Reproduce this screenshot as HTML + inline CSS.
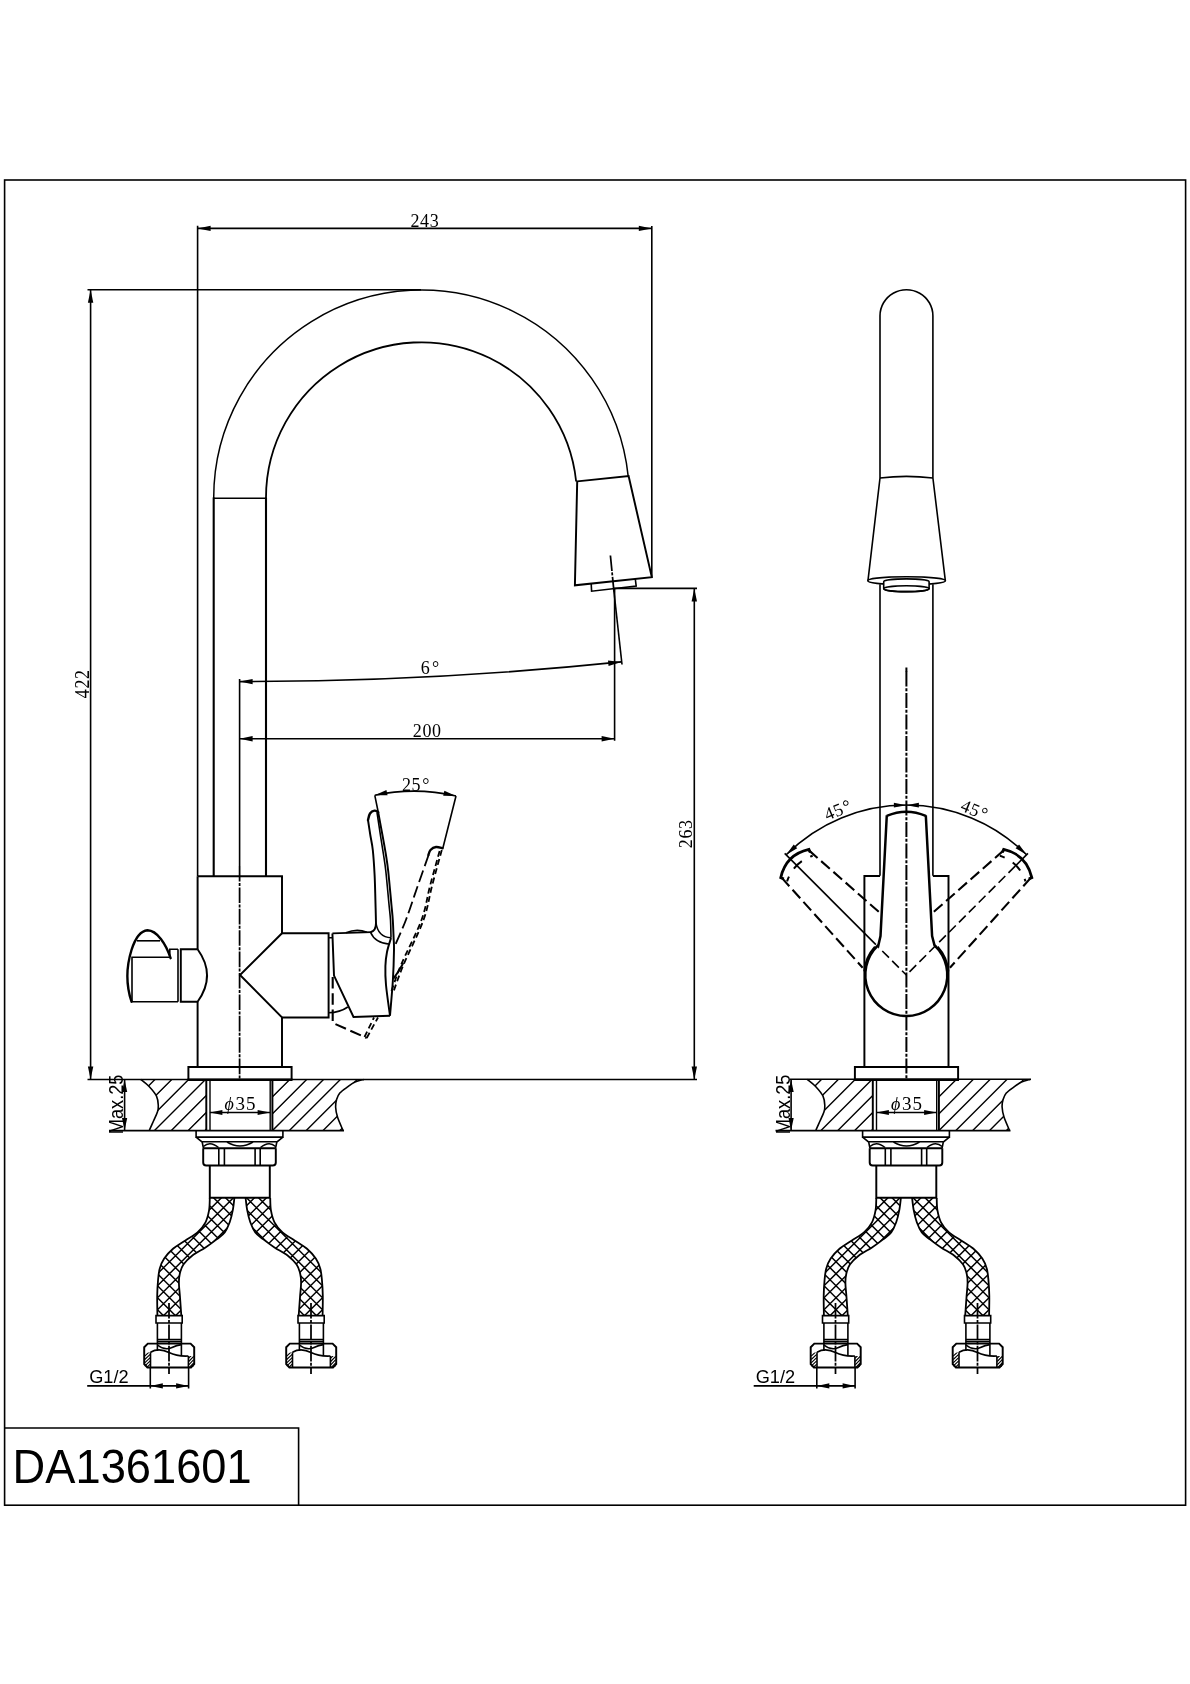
<!DOCTYPE html>
<html><head><meta charset="utf-8"><title>DA1361601</title>
<style>
html,body{margin:0;padding:0;background:#fff;}
body{width:1190px;height:1684px;overflow:hidden;}
svg{display:block;will-change:transform;}
.k{fill:none;stroke:#000;stroke-width:1.95;stroke-linecap:butt;stroke-linejoin:miter;}
.k3{fill:none;stroke:#000;stroke-width:2.5;stroke-linecap:butt;stroke-linejoin:miter;}
.dh{fill:none;stroke:#000;stroke-width:2;stroke-dasharray:5 9.5 11 9.5 5 30;}
.k2{fill:none;stroke:#000;stroke-width:2.4;stroke-linecap:round;stroke-linejoin:round;}
.t{fill:none;stroke:#000;stroke-width:1.6;}
.m{fill:none;stroke:#000;stroke-width:1.6;}
.h{fill:none;stroke:#000;stroke-width:1.4;}
.c{fill:none;stroke:#000;stroke-width:1.75;stroke-dasharray:15.6 1.4 3 1.4;}
.c2{fill:none;stroke:#000;stroke-width:2;stroke-dasharray:15 1.8 2.9 1.8;}
.d{fill:none;stroke:#000;stroke-width:2.1;stroke-dasharray:11.5 4.8;}
.d1{fill:none;stroke:#000;stroke-width:1.6;stroke-dasharray:9.5 4.5;}
.d2{fill:none;stroke:#000;stroke-width:1.8;stroke-dasharray:12 4.5;}
.ds{fill:none;stroke:#000;stroke-width:1.8;stroke-dasharray:6 3.5;}
.ah{fill:#000;stroke:none;}
.w{fill:#fff;stroke:#000;stroke-width:2;}
text{fill:#000;}
.ser{font-family:"Liberation Serif",serif;font-size:18px;letter-spacing:0.6px;}
.san{font-family:"Liberation Sans",sans-serif;font-size:18.2px;}
.ttl{font-family:"Liberation Sans",sans-serif;font-size:45px;}
</style></head><body>
<svg width="1190" height="1684" viewBox="0 0 1190 1684">
<rect x="0" y="0" width="1190" height="1684" fill="#fff"/>
<defs>
<clipPath id="hcL"><path d="M209.8,1198 C209.68,1200.03 209.82,1206.15 209.1,1210.2 C208.38,1214.25 207.43,1218.6 205.5,1222.3 C203.57,1226 200.85,1229.38 197.5,1232.4 C194.15,1235.42 189.43,1237.72 185.4,1240.4 C181.37,1243.08 176.83,1245.47 173.3,1248.5 C169.77,1251.53 166.47,1255.23 164.2,1258.6 C161.93,1261.97 160.73,1265 159.7,1268.7 C158.67,1272.4 158.42,1276.27 158,1280.8 C157.58,1285.33 157.3,1290.12 157.2,1295.9 C157.1,1301.68 157.37,1312.23 157.4,1315.5 L181.3,1315.5 C181.07,1312.23 180.3,1301.35 179.9,1295.9 C179.5,1290.45 178.92,1286.5 178.9,1282.8 C178.88,1279.1 179.05,1276.73 179.8,1273.7 C180.55,1270.67 181.3,1267.63 183.4,1264.6 C185.5,1261.57 188.72,1258.35 192.4,1255.5 C196.08,1252.65 201.47,1250.18 205.5,1247.5 C209.53,1244.82 213.4,1241.92 216.6,1239.4 C219.8,1236.88 222.52,1235.25 224.7,1232.4 C226.88,1229.55 228.35,1226 229.7,1222.3 C231.05,1218.6 232.02,1214.25 232.8,1210.2 C233.58,1206.15 234.13,1200.03 234.4,1198 Z"/></clipPath>
<clipPath id="hcR"><path d="M270.2,1198 C270.32,1200.03 270.18,1206.15 270.9,1210.2 C271.62,1214.25 272.57,1218.6 274.5,1222.3 C276.43,1226 279.15,1229.38 282.5,1232.4 C285.85,1235.42 290.57,1237.72 294.6,1240.4 C298.63,1243.08 303.17,1245.47 306.7,1248.5 C310.23,1251.53 313.53,1255.23 315.8,1258.6 C318.07,1261.97 319.27,1265 320.3,1268.7 C321.33,1272.4 321.58,1276.27 322,1280.8 C322.42,1285.33 322.7,1290.12 322.8,1295.9 C322.9,1301.68 322.63,1312.23 322.6,1315.5 L298.7,1315.5 C298.93,1312.23 299.7,1301.35 300.1,1295.9 C300.5,1290.45 301.08,1286.5 301.1,1282.8 C301.12,1279.1 300.95,1276.73 300.2,1273.7 C299.45,1270.67 298.7,1267.63 296.6,1264.6 C294.5,1261.57 291.28,1258.35 287.6,1255.5 C283.92,1252.65 278.53,1250.18 274.5,1247.5 C270.47,1244.82 266.6,1241.92 263.4,1239.4 C260.2,1236.88 257.48,1235.25 255.3,1232.4 C253.12,1229.55 251.65,1226 250.3,1222.3 C248.95,1218.6 247.98,1214.25 247.2,1210.2 C246.42,1206.15 245.87,1200.03 245.6,1198 Z"/></clipPath>
<clipPath id="cpL"><path d="M140.7,1079.4 C142.1,1080.58 146.47,1083.7 149.1,1086.5 C151.73,1089.3 154.97,1093.02 156.5,1096.2 C158.03,1099.38 158.13,1103.02 158.3,1105.6 C158.47,1108.18 158.3,1109.13 157.5,1111.7 C156.7,1114.27 154.85,1117.92 153.5,1121 C152.15,1124.08 150.08,1128.67 149.4,1130.2 L206.3,1130.4 L206.3,1079.4 Z"/></clipPath>
<clipPath id="cpR"><path d="M363.8,1079.4 C362.33,1079.83 357.77,1080.72 355,1082 C352.23,1083.28 349.73,1085.25 347.2,1087.1 C344.67,1088.95 341.57,1091.02 339.8,1093.1 C338.03,1095.18 337.3,1097.28 336.6,1099.6 C335.9,1101.92 335.45,1104.08 335.6,1107 C335.75,1109.92 336.27,1113.2 337.5,1117.1 C338.73,1121 342.08,1128.18 343,1130.4 L272.3,1130.4 L272.3,1079.4 Z"/></clipPath>
<g id="bot">
<path class="k" d="M188.4,1079.5 V1066.9 H291.6 V1079.5"/>
<path class="k" d="M187.5,1079.7 H292.5" style="stroke-width:2.5"/>
<path class="m" d="M109,1130.6 H344"/>
<path class="m" d="M140.7,1079.4 C142.1,1080.58 146.47,1083.7 149.1,1086.5 C151.73,1089.3 154.97,1093.02 156.5,1096.2 C158.03,1099.38 158.13,1103.02 158.3,1105.6 C158.47,1108.18 158.3,1109.13 157.5,1111.7 C156.7,1114.27 154.85,1117.92 153.5,1121 C152.15,1124.08 150.08,1128.67 149.4,1130.2"/>
<path class="m" d="M363.8,1079.4 C362.33,1079.83 357.77,1080.72 355,1082 C352.23,1083.28 349.73,1085.25 347.2,1087.1 C344.67,1088.95 341.57,1091.02 339.8,1093.1 C338.03,1095.18 337.3,1097.28 336.6,1099.6 C335.9,1101.92 335.45,1104.08 335.6,1107 C335.75,1109.92 336.27,1113.2 337.5,1117.1 C338.73,1121 342.08,1128.18 343,1130.4"/>
<path class="h" clip-path="url(#cpL)" d="M52.34,1131.5 L105.34,1078.5 M69.2,1131.5 L122.2,1078.5 M86.06,1131.5 L139.06,1078.5 M102.92,1131.5 L155.92,1078.5 M119.78,1131.5 L172.78,1078.5 M136.64,1131.5 L189.64,1078.5 M153.5,1131.5 L206.5,1078.5 M170.36,1131.5 L223.36,1078.5 M187.22,1131.5 L240.22,1078.5 M204.08,1131.5 L257.08,1078.5 M220.94,1131.5 L273.94,1078.5 M237.8,1131.5 L290.8,1078.5 M254.66,1131.5 L307.66,1078.5 M271.52,1131.5 L324.52,1078.5 M288.38,1131.5 L341.38,1078.5 M305.24,1131.5 L358.24,1078.5 M322.1,1131.5 L375.1,1078.5 M338.96,1131.5 L391.96,1078.5 "/>
<path class="h" clip-path="url(#cpR)" d="M52.34,1131.5 L105.34,1078.5 M69.2,1131.5 L122.2,1078.5 M86.06,1131.5 L139.06,1078.5 M102.92,1131.5 L155.92,1078.5 M119.78,1131.5 L172.78,1078.5 M136.64,1131.5 L189.64,1078.5 M153.5,1131.5 L206.5,1078.5 M170.36,1131.5 L223.36,1078.5 M187.22,1131.5 L240.22,1078.5 M204.08,1131.5 L257.08,1078.5 M220.94,1131.5 L273.94,1078.5 M237.8,1131.5 L290.8,1078.5 M254.66,1131.5 L307.66,1078.5 M271.52,1131.5 L324.52,1078.5 M288.38,1131.5 L341.38,1078.5 M305.24,1131.5 L358.24,1078.5 M322.1,1131.5 L375.1,1078.5 M338.96,1131.5 L391.96,1078.5 "/>
<path class="k" d="M206.3,1079.5 V1130.4 M272.4,1079.5 V1130.4"/>
<path class="h" d="M210,1079.5 V1130.4 M270.2,1079.5 V1130.4"/>
<path class="t" d="M209.9,1112.5 H270.1"/>
<path class="ah" d="M209.9,1112.5 L222.4,1109.9 L222.4,1115.1 Z"/>
<path class="ah" d="M270.1,1112.5 L257.6,1115.1 L257.6,1109.9 Z"/>
<text class="ser" x="224.4" y="1110.4" style="font-size:19px;letter-spacing:0.9px"><tspan font-style="italic" style="font-size:18px">&#981;</tspan><tspan dx="1">35</tspan></text>
<path class="t" d="M124.6,1079.5 V1130.6"/>
<path class="ah" d="M124.6,1079.5 L127.2,1092 L122,1092 Z"/>
<path class="ah" d="M124.6,1130.6 L122,1118.1 L127.2,1118.1 Z"/>
<text class="san" transform="translate(123.2,1134.2) rotate(-90) scale(1,1.14)" x="0" y="0">Max.25</text>
<path class="m" d="M196.1,1130.6 V1137.1 H282.9 V1130.6"/>
<path class="m" d="M196.1,1137.1 L201.7,1141.7 H277.3 L282.9,1137.1"/>
<path class="m" d="M203.4,1148.2 L202.2,1142 M275.6,1148.2 L276.8,1142"/>
<path class="t" d="M203.4,1146.5 Q210,1140.5 218.5,1147.5 M275.6,1146.5 Q269,1140.5 260.5,1147.5 M227,1142 Q240,1150 253,1142"/>
<path class="k" d="M203.2,1148.2 H275.8 M203.2,1148.2 V1162.4 Q203.2,1165.4 206.2,1165.4 H272.8 Q275.8,1165.4 275.8,1162.4 V1148.2"/>
<path class="m" d="M218.8,1148.2 V1165.4 M224.4,1148.2 V1165.4 M255.1,1148.2 V1165.4 M260.2,1148.2 V1165.4"/>
<path class="k" d="M209.8,1165.4 V1197.7 H269.8 V1165.4"/>
<path d="M31.8,1196 L152.8,1317 M43.8,1196 L164.8,1317 M55.8,1196 L176.8,1317 M67.8,1196 L188.8,1317 M79.8,1196 L200.8,1317 M91.8,1196 L212.8,1317 M103.8,1196 L224.8,1317 M115.8,1196 L236.8,1317 M127.8,1196 L248.8,1317 M139.8,1196 L260.8,1317 M151.8,1196 L272.8,1317 M163.8,1196 L284.8,1317 M175.8,1196 L296.8,1317 M187.8,1196 L308.8,1317 M199.8,1196 L320.8,1317 M211.8,1196 L332.8,1317 M223.8,1196 L344.8,1317 M235.8,1196 L356.8,1317 M247.8,1196 L368.8,1317 M151.2,1196 L30.2,1317 M163.2,1196 L42.2,1317 M175.2,1196 L54.2,1317 M187.2,1196 L66.2,1317 M199.2,1196 L78.2,1317 M211.2,1196 L90.2,1317 M223.2,1196 L102.2,1317 M235.2,1196 L114.2,1317 M247.2,1196 L126.2,1317 M259.2,1196 L138.2,1317 M271.2,1196 L150.2,1317 M283.2,1196 L162.2,1317 M295.2,1196 L174.2,1317 M307.2,1196 L186.2,1317 M319.2,1196 L198.2,1317 M331.2,1196 L210.2,1317 M343.2,1196 L222.2,1317 M355.2,1196 L234.2,1317 M367.2,1196 L246.2,1317 " clip-path="url(#hcL)" fill="none" stroke="#000" stroke-width="1.5"/>
<path d="M112.8,1196 L233.8,1317 M124.8,1196 L245.8,1317 M136.8,1196 L257.8,1317 M148.8,1196 L269.8,1317 M160.8,1196 L281.8,1317 M172.8,1196 L293.8,1317 M184.8,1196 L305.8,1317 M196.8,1196 L317.8,1317 M208.8,1196 L329.8,1317 M220.8,1196 L341.8,1317 M232.8,1196 L353.8,1317 M244.8,1196 L365.8,1317 M256.8,1196 L377.8,1317 M268.8,1196 L389.8,1317 M280.8,1196 L401.8,1317 M292.8,1196 L413.8,1317 M304.8,1196 L425.8,1317 M316.8,1196 L437.8,1317 M328.8,1196 L449.8,1317 M232.2,1196 L111.2,1317 M244.2,1196 L123.2,1317 M256.2,1196 L135.2,1317 M268.2,1196 L147.2,1317 M280.2,1196 L159.2,1317 M292.2,1196 L171.2,1317 M304.2,1196 L183.2,1317 M316.2,1196 L195.2,1317 M328.2,1196 L207.2,1317 M340.2,1196 L219.2,1317 M352.2,1196 L231.2,1317 M364.2,1196 L243.2,1317 M376.2,1196 L255.2,1317 M388.2,1196 L267.2,1317 M400.2,1196 L279.2,1317 M412.2,1196 L291.2,1317 M424.2,1196 L303.2,1317 M436.2,1196 L315.2,1317 M448.2,1196 L327.2,1317 " clip-path="url(#hcR)" fill="none" stroke="#000" stroke-width="1.5"/>
<path d="M209.8,1198 C209.68,1200.03 209.82,1206.15 209.1,1210.2 C208.38,1214.25 207.43,1218.6 205.5,1222.3 C203.57,1226 200.85,1229.38 197.5,1232.4 C194.15,1235.42 189.43,1237.72 185.4,1240.4 C181.37,1243.08 176.83,1245.47 173.3,1248.5 C169.77,1251.53 166.47,1255.23 164.2,1258.6 C161.93,1261.97 160.73,1265 159.7,1268.7 C158.67,1272.4 158.42,1276.27 158,1280.8 C157.58,1285.33 157.3,1290.12 157.2,1295.9 C157.1,1301.68 157.37,1312.23 157.4,1315.5 M234.4,1198 C234.13,1200.03 233.58,1206.15 232.8,1210.2 C232.02,1214.25 231.05,1218.6 229.7,1222.3 C228.35,1226 226.88,1229.55 224.7,1232.4 C222.52,1235.25 219.8,1236.88 216.6,1239.4 C213.4,1241.92 209.53,1244.82 205.5,1247.5 C201.47,1250.18 196.08,1252.65 192.4,1255.5 C188.72,1258.35 185.5,1261.57 183.4,1264.6 C181.3,1267.63 180.55,1270.67 179.8,1273.7 C179.05,1276.73 178.88,1279.1 178.9,1282.8 C178.92,1286.5 179.5,1290.45 179.9,1295.9 C180.3,1301.35 181.07,1312.23 181.3,1315.5" fill="none" stroke="#000" stroke-width="1.8"/>
<path d="M270.2,1198 C270.32,1200.03 270.18,1206.15 270.9,1210.2 C271.62,1214.25 272.57,1218.6 274.5,1222.3 C276.43,1226 279.15,1229.38 282.5,1232.4 C285.85,1235.42 290.57,1237.72 294.6,1240.4 C298.63,1243.08 303.17,1245.47 306.7,1248.5 C310.23,1251.53 313.53,1255.23 315.8,1258.6 C318.07,1261.97 319.27,1265 320.3,1268.7 C321.33,1272.4 321.58,1276.27 322,1280.8 C322.42,1285.33 322.7,1290.12 322.8,1295.9 C322.9,1301.68 322.63,1312.23 322.6,1315.5 M245.6,1198 C245.87,1200.03 246.42,1206.15 247.2,1210.2 C247.98,1214.25 248.95,1218.6 250.3,1222.3 C251.65,1226 253.12,1229.55 255.3,1232.4 C257.48,1235.25 260.2,1236.88 263.4,1239.4 C266.6,1241.92 270.47,1244.82 274.5,1247.5 C278.53,1250.18 283.92,1252.65 287.6,1255.5 C291.28,1258.35 294.5,1261.57 296.6,1264.6 C298.7,1267.63 299.45,1270.67 300.2,1273.7 C300.95,1276.73 301.12,1279.1 301.1,1282.8 C301.08,1286.5 300.5,1290.45 300.1,1295.9 C299.7,1301.35 298.93,1312.23 298.7,1315.5" fill="none" stroke="#000" stroke-width="1.8"/>
<path class="m" d="M156,1315.6 H182.2 V1323 H156 Z"/>
<path class="m" d="M157.4,1323 V1343.5 M181.4,1323 V1343.5 M157.4,1339.6 H181.4 M157.4,1341.8 H181.4"/>
<path class="k" d="M147.8,1343.6 H190.6 L194.2,1347.2 V1364 L191,1367.4 H147.4 L144.2,1364 V1347.2 Z"/>
<path class="m" d="M150.5,1352.2 V1367.4 M188.4,1356 V1367.4"/>
<path class="m" d="M157.4,1343.6 V1351 M181.4,1343.6 V1355.6"/>
<path class="m" d="M150.5,1352.2 C156.2,1349 163,1349.5 169,1352.5 C174,1355 179,1356.5 188.4,1356"/>
<path class="t" d="M157.4,1345 C163,1349.5 168,1349.5 172,1347.5 C175,1346 178,1345 181.4,1344.6"/>
<clipPath id="cn169"><path d="M144.2,1352.4 H150.5 V1364.5 L150.5,1367 H144.2 Z M188.4,1356 H194.2 V1364 L193.2,1367 H188.4 Z"/></clipPath>
<path class="h" style="stroke-width:1.15" clip-path="url(#cn169)" d="M144.7,1356.2 L150.2,1351 M188.7,1358.2 L193.7,1353 M144.7,1359.5 L150.2,1354.3 M188.7,1361.5 L193.7,1356.3 M144.7,1362.8 L150.2,1357.6 M188.7,1364.8 L193.7,1359.6 M144.7,1366.1 L150.2,1360.9 M188.7,1368.1 L193.7,1362.9 M144.7,1369.4 L150.2,1364.2 M188.7,1371.4 L193.7,1366.2 "/>
<path class="c" d="M169,1303 V1374"/>
<path class="m" d="M298,1315.6 H324.2 V1323 H298 Z"/>
<path class="m" d="M299.4,1323 V1343.5 M323.4,1323 V1343.5 M299.4,1339.6 H323.4 M299.4,1341.8 H323.4"/>
<path class="k" d="M289.8,1343.6 H332.6 L336.2,1347.2 V1364 L333,1367.4 H289.4 L286.2,1364 V1347.2 Z"/>
<path class="m" d="M292.5,1352.2 V1367.4 M330.4,1356 V1367.4"/>
<path class="m" d="M299.4,1343.6 V1351 M323.4,1343.6 V1355.6"/>
<path class="m" d="M292.5,1352.2 C298.2,1349 305,1349.5 311,1352.5 C316,1355 321,1356.5 330.4,1356"/>
<path class="t" d="M299.4,1345 C305,1349.5 310,1349.5 314,1347.5 C317,1346 320,1345 323.4,1344.6"/>
<clipPath id="cn311"><path d="M286.2,1352.4 H292.5 V1364.5 L292.5,1367 H286.2 Z M330.4,1356 H336.2 V1364 L335.2,1367 H330.4 Z"/></clipPath>
<path class="h" style="stroke-width:1.15" clip-path="url(#cn311)" d="M286.7,1356.2 L292.2,1351 M330.7,1358.2 L335.7,1353 M286.7,1359.5 L292.2,1354.3 M330.7,1361.5 L335.7,1356.3 M286.7,1362.8 L292.2,1357.6 M330.7,1364.8 L335.7,1359.6 M286.7,1366.1 L292.2,1360.9 M330.7,1368.1 L335.7,1362.9 M286.7,1369.4 L292.2,1364.2 M330.7,1371.4 L335.7,1366.2 "/>
<path class="c" d="M311,1303 V1374"/>
<path class="t" d="M150.3,1367.6 V1388.6 M188.6,1367.6 V1388.6 M87.2,1385.9 H188.6"/>
<path class="ah" d="M150.3,1385.9 L162.8,1383.3 L162.8,1388.5 Z"/>
<path class="ah" d="M188.6,1385.9 L176.1,1388.5 L176.1,1383.3 Z"/>
<text class="san" x="89.2" y="1383.4">G1/2</text>
</g>
</defs>
<rect x="4.6" y="180" width="1181" height="1325.2" class="t"/>
<path class="t" d="M4.6,1428 H298.6 V1505.2"/>
<text class="ttl" transform="translate(12.6,1482.8) scale(1.006,1.055)">DA1361601</text>
<use href="#bot"/>
<path class="t" d="M197.6,225.8 V876 M651.8,226 V577"/>
<path class="t" d="M197.6,228.4 H651.8"/>
<path class="ah" d="M197.6,228.4 L210.6,225.7 L210.6,231.1 Z"/>
<path class="ah" d="M651.8,228.4 L638.8,231.1 L638.8,225.7 Z"/>
<text class="ser" x="410.5" y="226.6">243</text>
<path class="t" d="M87.5,289.7 H421 M87.5,1079.5 H697 M90.6,289.7 V1079.5"/>
<path class="ah" d="M90.6,289.7 L93.3,302.7 L87.9,302.7 Z"/>
<path class="ah" d="M90.6,1079.5 L87.9,1066.5 L93.3,1066.5 Z"/>
<text class="ser" transform="translate(89.4,698.2) rotate(-90) scale(1,1.12)">422</text>
<path class="t" d="M613.5,588.4 H697 M694.3,588.4 V1079.5"/>
<path class="ah" d="M694.3,588.4 L697,601.4 L691.6,601.4 Z"/>
<path class="ah" d="M694.3,1079.5 L691.6,1066.5 L697,1066.5 Z"/>
<text class="ser" transform="translate(692.2,848.2) rotate(-90) scale(1,1.1)">263</text>
<path class="t" d="M239.6,679 V866 M614.6,588.4 V740.8 M239.6,738.7 H614.6"/>
<path class="ah" d="M239.6,738.7 L252.6,736 L252.6,741.4 Z"/>
<path class="ah" d="M614.6,738.7 L601.6,741.4 L601.6,736 Z"/>
<text class="ser" x="412.8" y="736.6">200</text>
<path class="t" d="M239.6,681.6 A3700,3700 0 0 0 621.2,661.9"/>
<path class="ah" d="M239.6,681.6 L252.6,678.9 L252.6,684.3 Z"/>
<path class="ah" d="M621.2,661.9 L608.55,665.94 L607.99,660.57 Z"/>
<text class="ser" x="420.8" y="674">6<tspan dx="1.5">&#176;</tspan></text>
<path class="c" d="M610.4,555.5 L614,592"/>
<path class="t" d="M614,592 L622,664.5"/>
<path class="c" d="M239.6,866 V1079"/>
<path class="k" d="M213.7,876.2 V497.5 M266,876.2 V497.5" style="stroke-width:2.1"/>
<path class="k" d="M213.7,498.2 L213.7,497.8 A207.8,207.8 0 0 1 311.4,321.56 A207.8,207.8 0 0 1 512.64,311.05 A207.8,207.8 0 0 1 628.17,476.15" style="stroke-width:1.5"/>
<path class="k" d="M266,498.2 L266,497.8 A155.5,155.5 0 0 1 339.09,365.93 A155.5,155.5 0 0 1 489.65,358.03 A155.5,155.5 0 0 1 576.15,481.52" style="stroke-width:1.8"/>
<path class="m" d="M213.7,498.2 H266"/>
<path class="k" d="M577.2,481.4 L628.6,476.1 L651.8,577.1 L574.9,585.3 Z"/>
<path class="m" d="M591.2,583.6 L591.6,591.2 L636.2,586.1 L635.3,579"/>
<path class="k" d="M197.6,876.2 H282 V933.3 H328.6 V1017.4 H282 V1066.9 M197.6,876.2 V949.2 M197.6,1001.7 V1066.9"/>
<path class="k" d="M282,933.3 L240,975 L282,1017.4"/>
<path class="k" d="M197.6,949.2 H180.8 V1001.7 H197.6 M197.6,949.2 Q216.5,975.4 197.6,1001.7"/>
<path class="m" d="M178,949.2 V1001.7 M178,949.2 H169.8 V957.2 M178,1001.7 H132 V957.2 H170.5"/>
<path class="m" d="M137,940.8 H160"/>
<path class="k2" d="M131.5,1001.7 C126,985 126.5,966 131.5,950 C135,939 140,931 147.5,930.3 C157,930.5 166,944 170.6,958.2"/>
<path class="m" d="M328.6,937.8 H332.4 M328.6,1012.8 Q340,1012.5 347.8,1007"/>
<path class="k" d="M332.4,933.4 L371.5,932.1 M332.4,933.4 L334,975.6 L353.5,1017 L390,1015.7"/>
<path class="t" d="M346,932.8 Q356.5,928.2 367,932.2"/>
<path class="k2" d="M368,820 C368.33,818.92 368.92,815.07 370,813.5 C371.08,811.93 373.13,810.82 374.5,810.6 C375.87,810.38 377.58,811.93 378.2,812.2"/>
<path class="k" d="M368,820 C368.38,822.5 369.5,830 370.3,835 C371.1,840 372.08,843.33 372.8,850 C373.52,856.67 374.17,866.67 374.6,875 C375.03,883.33 375.17,892 375.4,900 C375.63,908 375.9,919.17 376,923 Q376,931 370.5,932.2"/>
<path class="m" d="M376,923 Q378,937 391,937.8"/>
<path class="m" d="M370.5,932.2 Q375,943 390,944.2"/>
<path class="k" d="M378.2,812.2 C378.97,816.33 381.53,830.03 382.8,837 C384.07,843.97 384.9,848.33 385.8,854 C386.7,859.67 387.27,862.58 388.2,871 C389.13,879.42 390.63,896.33 391.4,904.5 C392.17,912.67 392.43,914.45 392.8,920 C393.17,925.55 393.4,932.8 393.6,937.8 C393.8,942.8 394.12,942.97 394,950 C393.88,957.03 393.57,969.05 392.9,980 C392.23,990.95 390.48,1009.75 390,1015.7"/>
<path class="m" d="M377,812.5 C377.62,816.58 379.63,830.08 380.7,837 C381.77,843.92 382.55,848.33 383.4,854 C384.25,859.67 384.87,862.58 385.8,871 C386.73,879.42 388.22,896.33 389,904.5 C389.78,912.67 390.17,914.45 390.5,920 C390.83,925.55 390.92,934.83 391,937.8"/>
<path class="k" d="M391,938 C390.33,940.33 387.93,947.33 387,952 C386.07,956.67 385.57,960.5 385.4,966 C385.23,971.5 385.23,976.72 386,985 C386.77,993.28 389.33,1010.58 390,1015.7"/>
<path class="t" d="M374.8,795.3 L378.2,812 M456,796 L442.9,848"/>
<path class="t" d="M374.8,795.3 A187,187 0 0 1 456,796"/>
<path class="ah" d="M374.8,795.3 L386.44,790.06 L387.57,795.13 Z"/>
<path class="ah" d="M456,796 L443.23,795.83 L444.36,790.76 Z"/>
<text class="ser" x="402" y="790.8">25<tspan dx="1">&#176;</tspan></text>
<path class="k2" d="M428.4,855 C428.75,854.17 429.23,851.33 430.5,850 C431.77,848.67 433.98,847.28 436,847 C438.02,846.72 441.5,848.08 442.6,848.3"/>
<path class="d2" d="M428.6,855 C426.67,860.5 420.78,877.17 417,888 C413.22,898.83 409.65,910.23 405.9,920 C402.15,929.77 396.4,942.17 394.5,946.6"/>
<path class="ds" d="M441.8,850 C440.17,856 435.05,874.33 432,886 C428.95,897.67 428.3,906.75 423.5,920 C418.7,933.25 408.28,953.33 403.2,965.5 C398.12,977.67 394.7,988.42 393,993"/>
<path class="ds" d="M439.6,851 C438,856.83 433.02,874.5 430,886 C426.98,897.5 426.3,906.92 421.5,920 C416.7,933.08 406.2,952.67 401.2,964.5 C396.2,976.33 393.12,986.58 391.5,991"/>
<path class="k" d="M403.3,963 C402.42,964.5 399.68,969.37 398,972 C396.32,974.63 394,977.67 393.2,978.8"/>
<path class="d" d="M332.7,976 V1022.9 L366.7,1038" stroke-dashoffset="-1"/>
<path class="ds" d="M366.7,1038 L378,1017.5 M364.5,1037 L374,1017.5"/>
<use href="#bot" transform="translate(666.5,0)"/>
<path class="m" d="M790,1079.3 H1031"/>
<path class="m" d="M880,478 V315.8 L880,315.8 A26.45,26.1 0 0 1 893.23,293.2 A26.45,26.1 0 0 1 919.68,293.2 A26.45,26.1 0 0 1 932.9,315.8 V478"/>
<path class="m" d="M880,478 Q906.4,474.8 932.9,478"/>
<path class="m" d="M880,478 L868,580.3 M932.9,478 L945.3,580.3"/>
<ellipse class="m" cx="906.6" cy="580.7" rx="38.9" ry="3.9"/>
<path class="m" style="fill:#fff" d="M883.7,581.8 V588.7 A22.7,2.9 0 0 0 929.1,588.7 V581.8 A22.7,2.9 0 0 0 883.7,581.8 Z"/>
<ellipse class="m" cx="906.4" cy="588.7" rx="22.7" ry="2.9"/>
<path class="m" d="M880,584.3 V875.8 M932.9,584.3 V875.8"/>
<path class="c2" d="M906.4,667.5 V672" style="stroke-dasharray:none"/>
<path class="c2" d="M906.4,671.5 V1079"/>
<path class="k" d="M880,875.9 H864.4 V1066.9 M932.9,875.9 H948.5 V1066.9"/>
<path class="t" d="M786.19,854.79 A170,170 0 0 1 906.4,805 A170,170 0 0 1 1026.61,854.79"/>
<path class="ah" d="M906.4,805.2 L893.9,807.6 L893.9,802.8 Z"/>
<path class="ah" d="M906.4,805.2 L918.9,802.8 L918.9,807.6 Z"/>
<path class="ah" d="M786.19,854.79 L793.74,844.5 L797.22,848.36 Z"/>
<path class="ah" d="M1026.61,854.79 L1015.58,848.36 L1019.06,844.5 Z"/>
<text class="ser" text-anchor="middle" transform="rotate(-22.5 906.3 975)" x="906.3" y="802.3">45<tspan dx="1">&#176;</tspan></text>
<text class="ser" text-anchor="middle" transform="rotate(22.5 906.3 975)" x="906.3" y="802.3">45<tspan dx="1">&#176;</tspan></text>
<path class="k3" d="M886.8,815.9 Q906.3,807.6 925.8,815.9"/>
<path class="k3" d="M886.8,815.2 L880.5,936 L878.3,945.6 L878.08,945.26 A41,41 0 0 0 868.22,990.19 A41,41 0 0 0 906.3,1016 A41,41 0 0 0 944.38,990.19 A41,41 0 0 0 934.52,945.26 L932.1,936 L925.8,815.2"/>
<path class="t" d="M864.06,971.3 A42.4,42.4 0 0 1 874.79,946.63 M948.54,971.3 A42.4,42.4 0 0 0 937.81,946.63"/>
<g transform="rotate(-45 906.3 975)">
<path class="d" d="M887,818 L880.6,939"/>
<path class="d" d="M925.6,818 L931.7,913.7"/>
<path class="k3" d="M887.6,820.5 L886.4,817.4 Q906.3,804.8 926.2,817.4 L925,820.5" style="stroke-width:2.8"/>
<path class="dh" d="M888.2,824.5 Q906.3,815.5 924.4,824.5"/>
<path class="t" d="M906.3,803 V932"/>
<path class="d1" d="M906.3,941 V975"/>
</g>
<g transform="rotate(45 906.3 975)">
<path class="d" d="M887,818 L880.9,913.7"/>
<path class="d" d="M925.6,818 L932,939"/>
<path class="k3" d="M887.6,820.5 L886.4,817.4 Q906.3,804.8 926.2,817.4 L925,820.5" style="stroke-width:2.8"/>
<path class="dh" d="M888.2,824.5 Q906.3,815.5 924.4,824.5"/>
<path class="t" d="M906.3,803 V821"/>
<path class="d1" d="M906.3,821 V975"/>
</g>
</svg></body></html>
